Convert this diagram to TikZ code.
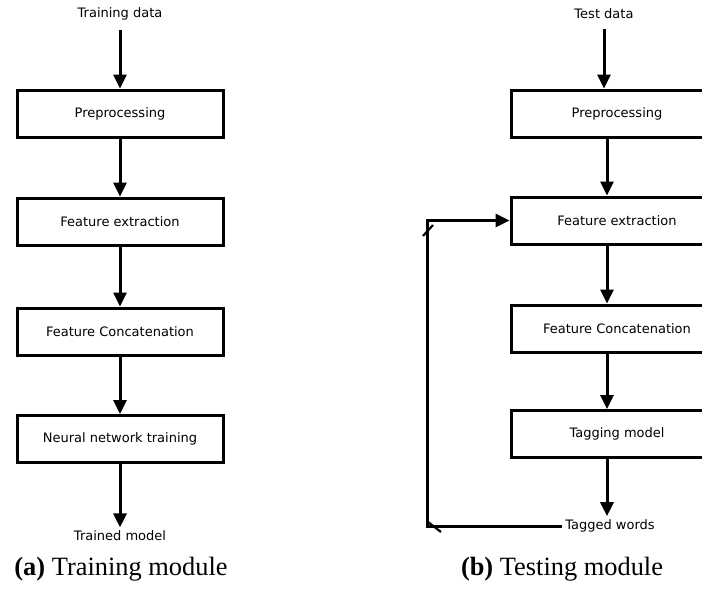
\documentclass[tikz,border=0pt]{standalone}
\usepackage{fontspec}
\setmainfont{Liberation Serif}
\newfontfamily\dejavu{DejaVu Sans}
\usetikzlibrary{arrows.meta}

\tikzset{
  block/.style={draw, line width=3pt, minimum width=206pt, minimum height=47pt,
    font=\dejavu\fontsize{13}{15}\selectfont},
  io/.style={font=\dejavu\fontsize{13}{15}\selectfont},
  flow/.style={line width=3pt, -{Triangle[length=14pt,width=13pt]}},
  caption/.style={font=\fontsize{26.4}{30}\selectfont}
}

\begin{document}
\begin{tikzpicture}[x=1pt,y=-1pt]
    \useasboundingbox (0,0) rectangle (702,590); % page
    \clip (0,0) rectangle (702,590);

    % (a) training module
    \node[io] (in1) at (120,14) {Training data};
    \node[block] (pre1) at (120,113.5) {Preprocessing};
    \node[block] (feat1) at (120,221.5) {Feature extraction};
    \node[block] (cat1) at (120,331.5) {Feature Concatenation};
    \node[block] (nn1) at (120,439) {Neural network training};
    \node[io] (out1) at (120,536) {Trained model};
    \draw[flow] ([yshift=-6pt]in1.south) -- (pre1); % input
    \draw[flow] (pre1) -- (feat1);
    \draw[flow] (feat1) -- (cat1);
    \draw[flow] (cat1) -- (nn1);
    \draw[flow] (nn1) -- (out1); % output
    \node[caption] (capa) at (121,569) {\textbf{(a)} Training module};

    % (b) testing module
    \node[io] (in2) at (604,14) {Test data};
    \node[block, minimum width=212pt] (pre2) at (617,113.5) {Preprocessing};
    \node[block, minimum width=212pt] (feat2) at (617,220.5) {Feature extraction};
    \node[block, minimum width=212pt] (cat2) at (617,328.5) {Feature Concatenation};
    \node[block, minimum width=212pt] (tag2) at (617,434) {Tagging model};
    \node[io] (out2) at (610,526) {Tagged words};
    \draw[flow] ([yshift=-6pt]in2.south) -- (in2 |- pre2.north); % input
    \draw[flow] ([xshift=-10pt]pre2.south) -- ([xshift=-10pt]feat2.north);
    \draw[flow] ([xshift=-10pt]feat2.south) -- ([xshift=-10pt]cat2.north);
    \draw[flow] ([xshift=-10pt]cat2.south) -- ([xshift=-10pt]tag2.north);
    \draw[flow] ([xshift=-10pt]tag2.south) -- ([xshift=-10pt]tag2.south |- out2.north); % output
    \coordinate (bend) at (427,526); % feedback corner
    \draw[flow] (out2.west) -- (bend) |- (feat2.west); % feedback
    \draw[line width=2.2pt] (423,236) -- (433,225); % corner ticks
    \draw[line width=2.2pt] (428,522) -- (441,532);
    \node[caption] (capb) at (562,569) {\textbf{(b)} Testing module};
\end{tikzpicture}
\end{document}
